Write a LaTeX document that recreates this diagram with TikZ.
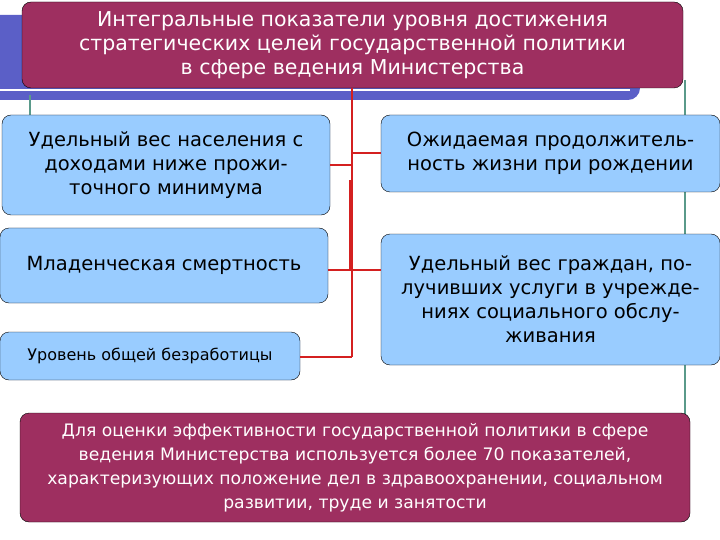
\documentclass[tikz,border=0pt]{standalone}
\usepackage{fontspec}
\setmainfont{DejaVu Sans}
\definecolor{maroon}{HTML}{9E2F60}
\definecolor{lblue}{HTML}{99CCFF}
\definecolor{tblue}{HTML}{5B5FC7}
\definecolor{teal}{HTML}{5A9A8A}
\definecolor{cred}{HTML}{D42020}
\begin{document}
\begin{tikzpicture}[x=1pt,y=-1pt,
  mbox/.style={draw=black,fill=maroon,rounded corners=9pt,text=white,align=center,inner sep=0pt},
  bbox/.style={draw=black,fill=lblue,rounded corners=9pt,align=center,inner sep=0pt,font=\fontsize{19.5}{24}\selectfont},
  con/.style={draw=cred,line width=1.4pt}]
\useasboundingbox (0,0) rectangle (720,540);
\fill[white] (0,0) rectangle (720,540);
% template background
\fill[tblue,rounded corners=12pt] (-20,15) rectangle (640,100);
\draw[white,line width=2pt] (0,90) -- (630,90);
\draw[teal,line width=1.5pt] (30,95) -- (30,120);
\draw[teal,line width=1.5pt] (685,80) -- (685,420);
% nodes
\node[mbox,minimum width=661,minimum height=86,font=\fontsize{20.5}{24}\selectfont] (t) at (352.5,45)
  {Интегральные показатели уровня достижения\\стратегических целей государственной политики\\в сфере ведения Министерства};
\node[bbox,minimum width=328,minimum height=100] (b1) at (166,165)
  {Удельный вес населения с\\доходами ниже прожи-\\точного минимума};
\node[bbox,minimum width=339,minimum height=77] (b2) at (550.5,153.5)
  {Ожидаемая продолжитель-\\ность жизни при рождении};
\node[bbox,minimum width=328,minimum height=75] (b3) at (164,265.5)
  {Младенческая смертность};
\node[bbox,minimum width=339,minimum height=131] (b4) at (550.5,299.5)
  {Удельный вес граждан, по-\\лучивших услуги в учрежде-\\ниях социального обслу-\\живания};
\node[bbox,minimum width=300,minimum height=48,font=\fontsize{16}{19}\selectfont] (b5) at (150,356)
  {Уровень общей безработицы};
\node[mbox,minimum width=670,minimum height=109,font=\fontsize{17.2}{24}\selectfont] (bt) at (355,467.5)
  {Для оценки эффективности государственной политики в сфере\\ведения Министерства используется более 70 показателей,\\характеризующих положение дел в здравоохранении, социальном\\развитии, труде и занятости};
% connectors
\coordinate (j1) at (352,165);
\coordinate (j2) at (352,153);
\coordinate (j3) at (352,270);
\coordinate (j5) at (352,357);
\draw[con] (t.south -| j1) -- (j5);
\draw[cred,line width=3pt] (350,180) -- (350,270);
\draw[con] (b1.east |- j1) -- (j1);
\draw[con] (j2) -- (b2.west |- j2);
\draw[con] (b3.east |- j3) -- (b4.west |- j3);
\draw[con] (b5.east |- j5) -- (j5);
\end{tikzpicture}
\end{document}
